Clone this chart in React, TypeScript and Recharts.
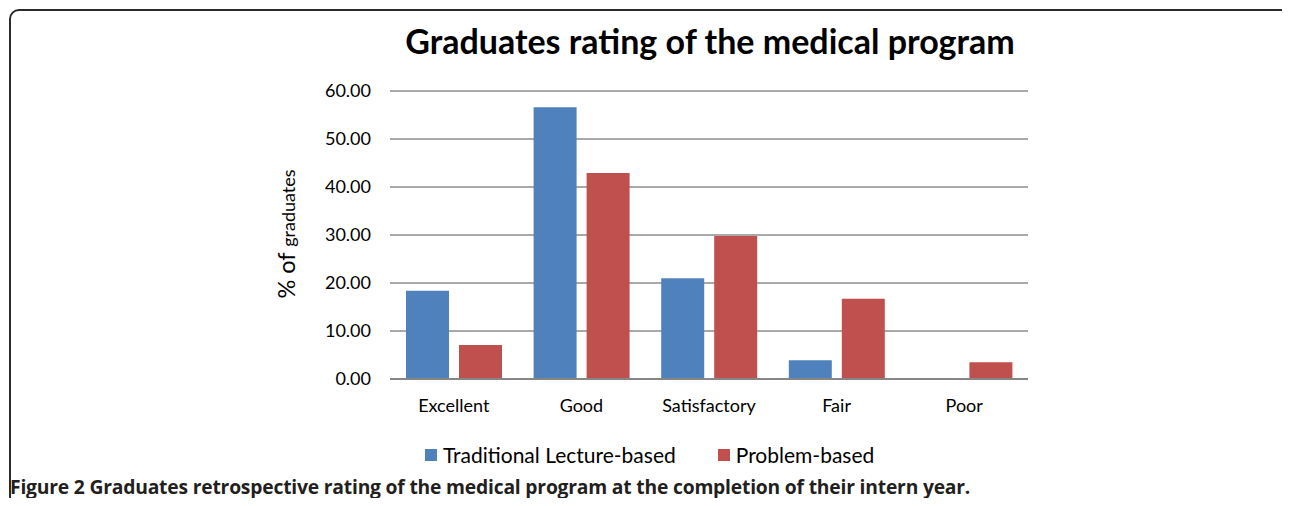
import { Bar, BarChart, CartesianGrid, XAxis, YAxis } from "recharts";

const ratings = ["Excellent", "Good", "Satisfactory", "Fair", "Poor"];
const traditional = [18.4, 56.6, 21.0, 3.9, 0];
const problemBased = [7.1, 42.9, 29.8, 16.7, 3.5];
const yTicks = [0, 10, 20, 30, 40, 50, 60];

const data = ratings.map((rating, i) => ({
  rating,
  traditional: traditional[i],
  problem: problemBased[i],
}));

const BLUE = "#4F81BD";
const RED = "#C0504D";
const FONT = "Lato, 'Open Sans', sans-serif";

function YLabel() {
  return (
    <text
      x={0}
      y={0}
      transform="translate(295, 234) rotate(-90)"
      textAnchor="middle"
      fill="#000"
      fontFamily={FONT}
    >
      <tspan fontSize={23.5}>% of </tspan>
      <tspan fontSize={18}>graduates</tspan>
    </text>
  );
}

function LegendBox() {
  const items = [
    { label: "Traditional Lecture-based", color: BLUE },
    { label: "Problem-based", color: RED },
  ];
  return (
    <div style={{ display: "flex", gap: 42, fontFamily: FONT, fontSize: 21, alignItems: "center" }}>
      {items.map((it) => (
        <div key={it.label} style={{ display: "flex", alignItems: "center", gap: 6 }}>
          <span style={{ width: 12, height: 12, background: it.color, display: "inline-block" }} />
          <span>{it.label}</span>
        </div>
      ))}
    </div>
  );
}

export default function App() {
  return (
    <div style={{ position: "relative", width: 1290, height: 506, margin: -8, background: "#fff", overflow: "hidden" }}>
      <div
        style={{
          position: "absolute",
          left: 9,
          top: 9,
          width: 1300,
          height: 540,
          border: "2px solid #2b2b2b",
          borderRadius: 10,
          boxSizing: "border-box",
        }}
      />
      <div
        style={{
          position: "absolute",
          left: 0,
          width: 1420,
          top: 20,
          textAlign: "center",
          fontFamily: FONT,
          fontWeight: 700,
          fontSize: 34,
          color: "#000",
        }}
      >
        Graduates rating of the medical program
      </div>
      <div style={{ position: "absolute", left: 0, top: 0 }}>
        <BarChart
          width={1290}
          height={506}
          data={data}
          margin={{ top: 91, right: 262, left: 0, bottom: 97 }}
          barSize={43}
          barGap={10}
        >
          <CartesianGrid vertical={false} stroke="#8c8c8c" strokeWidth={1.5} />
          <XAxis
            dataKey="rating"
            height={30}
            tickLine={false}
            axisLine={{ stroke: "#868686", strokeWidth: 2 }}
            tick={{ fill: "#000", fontSize: 18, fontFamily: FONT }}
            tickMargin={14}
          />
          <YAxis
            width={390}
            domain={[0, 60]}
            ticks={yTicks}
            tickFormatter={(v: number) => v.toFixed(2)}
            axisLine={false}
            tickLine={false}
            tickSize={0}
            tickMargin={19}
            tick={{ fill: "#000", fontSize: 18, fontFamily: FONT }}
            label={<YLabel />}
          />
          <Bar dataKey="traditional" name="Traditional Lecture-based" fill={BLUE} isAnimationActive={false} />
          <Bar dataKey="problem" name="Problem-based" fill={RED} isAnimationActive={false} />
        </BarChart>
      </div>
      <div style={{ position: "absolute", left: 425, top: 442 }}>
        <LegendBox />
      </div>
      <div
        style={{
          position: "absolute",
          left: 10,
          top: 473,
          fontFamily: "'Open Sans', sans-serif",
          fontWeight: 700,
          fontSize: 19.3,
          color: "#231f20",
          letterSpacing: -0.2,
          whiteSpace: "nowrap",
        }}
      >
        Figure 2 Graduates retrospective rating of the medical program at the completion of their intern year.
      </div>
    </div>
  );
}
